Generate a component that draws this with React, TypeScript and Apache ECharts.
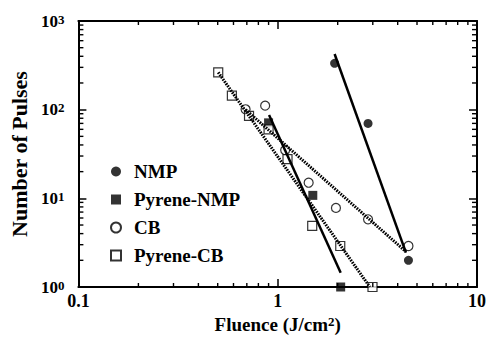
import React, { useEffect, useRef } from 'react';
import * as echarts from 'echarts';

// Data
const nmpX = [1.93, 2.84, 4.53];
const nmpY = [333, 70, 2];
const pyreneNmpX = [0.9, 1.5, 2.07];
const pyreneNmpY = [71, 10.8, 1];
const cbX = [0.69, 0.865, 1.09, 1.43, 1.96, 2.84, 4.53];
const cbY = [101, 111, 35, 15, 7.8, 5.8, 2.9];
const pyreneCbX = [0.503, 0.589, 0.718, 0.9, 1.12, 1.49, 2.06, 2.99];
const pyreneCbY = [263, 144, 85, 60, 27.7, 4.9, 2.9, 1];

// Fit lines (end points)
const nmpFitX = [1.93, 4.4];
const nmpFitY = [424, 2.44];
const pyreneNmpFitX = [0.905, 2.07];
const pyreneNmpFitY = [87, 1.45];
const cbFitX = [0.69, 4.4];
const cbFitY = [100, 2.5];
const pyreneCbFitX = [0.503, 2.9];
const pyreneCbFitY = [263, 1.0];

// Axis ranges and minor tick positions
const xMin = 0.1;
const xMax = 10;
const yMin = 1;
const yMax = 1000;
const xMinorTicks = [0.2, 0.3, 0.4, 0.5, 0.6, 0.7, 0.8, 0.9, 2, 3, 4, 5, 6, 7, 8, 9];
const yMinorTicks = [2, 3, 4, 5, 6, 7, 8, 9, 20, 30, 40, 50, 60, 70, 80, 90, 200, 300, 400, 500, 600, 700, 800, 900];

const legendNames = ['NMP', 'Pyrene-NMP', 'CB', 'Pyrene-CB'];

const FONT = '"Liberation Serif", "Times New Roman", serif';

const pairs = (xs: number[], ys: number[]) => xs.map((x, i) => [x, ys[i]]);

export default function App() {
  const ref = useRef<HTMLDivElement>(null);

  useEffect(() => {
    if (!ref.current) return;
    const chart = echarts.init(ref.current, undefined, { renderer: 'svg' });

    const tickStyle = { stroke: '#000', lineWidth: 1.4 };
    const minorLen = 4;

    const axisCommon = {
      type: 'log' as const,
      logBase: 10,
      axisLine: { show: true, lineStyle: { color: '#000', width: 2 } },
      axisTick: { show: true, inside: true, length: 8, lineStyle: { color: '#000', width: 1.5 } },
      splitLine: { show: false },
    };

    const option: any = {
      animation: false,
      backgroundColor: '#fff',
      grid: { left: 74, right: 10, top: 21, bottom: 52, containLabel: false },
      legend: {
        orient: 'vertical',
        left: 110,
        top: 162,
        padding: 0,
        itemWidth: 10,
        itemHeight: 10,
        itemGap: 9,
        data: legendNames,
        textStyle: {
          fontFamily: FONT,
          fontWeight: 'bold',
          fontSize: 19,
          lineHeight: 19,
          color: '#000',
          padding: [0, 0, 0, 8],
        },
      },
      xAxis: [
        {
          ...axisCommon,
          position: 'bottom',
          min: xMin,
          max: xMax,
          name: 'Fluence (J/cm{s|2})',
          nameLocation: 'middle',
          nameGap: 27,
          nameTextStyle: {
            fontFamily: FONT,
            fontWeight: 'bold',
            fontSize: 19,
            lineHeight: 19,
            color: '#000',
            rich: {
              s: { fontFamily: FONT, fontWeight: 'bold', fontSize: 13, lineHeight: 13, verticalAlign: 'top', color: '#000' },
            },
          },
          axisLabel: {
            show: true,
            margin: 5,
            fontFamily: FONT,
            fontWeight: 'bold',
            fontSize: 18,
            color: '#000',
            formatter: (v: number) => String(Number(v.toPrecision(2))),
          },
        },
        {
          ...axisCommon,
          position: 'top',
          min: xMin,
          max: xMax,
          axisLabel: { show: false },
        },
      ],
      yAxis: [
        {
          ...axisCommon,
          position: 'left',
          min: yMin,
          max: yMax,
          name: 'Number of Pulses',
          nameLocation: 'middle',
          nameGap: 44,
          nameTextStyle: {
            fontFamily: FONT,
            fontWeight: 'bold',
            fontSize: 22,
            color: '#000',
          },
          axisLabel: {
            show: true,
            margin: 14,
            formatter: (v: number) => `{b|10}{s|${Math.round(Math.log10(v))}}`,
            rich: {
              b: { fontFamily: FONT, fontWeight: 'bold', fontSize: 17, lineHeight: 17, color: '#000' },
              s: { fontFamily: FONT, fontWeight: 'bold', fontSize: 13, lineHeight: 13, verticalAlign: 'top', color: '#000' },
            },
          },
        },
        {
          ...axisCommon,
          position: 'right',
          min: yMin,
          max: yMax,
          axisLabel: { show: false },
        },
      ],
      series: [
        {
          name: 'xMinor',
          type: 'custom',
          coordinateSystem: 'cartesian2d',
          silent: true,
          clip: false,
          z: 5,
          data: xMinorTicks.map((v) => [v, yMin]),
          renderItem: (params: any, api: any) => {
            const v = api.value(0);
            const b = api.coord([v, yMin]);
            const t = api.coord([v, yMax]);
            return {
              type: 'group',
              children: [
                { type: 'line', shape: { x1: b[0], y1: b[1], x2: b[0], y2: b[1] - minorLen }, style: tickStyle },
                { type: 'line', shape: { x1: t[0], y1: t[1], x2: t[0], y2: t[1] + minorLen }, style: tickStyle },
              ],
            };
          },
        },
        {
          name: 'yMinor',
          type: 'custom',
          coordinateSystem: 'cartesian2d',
          silent: true,
          clip: false,
          z: 5,
          data: yMinorTicks.map((v) => [xMin, v]),
          renderItem: (params: any, api: any) => {
            const v = api.value(1);
            const l = api.coord([xMin, v]);
            const r = api.coord([xMax, v]);
            return {
              type: 'group',
              children: [
                { type: 'line', shape: { x1: l[0], y1: l[1], x2: l[0] + minorLen + 1, y2: l[1] }, style: tickStyle },
                { type: 'line', shape: { x1: r[0], y1: r[1], x2: r[0] - minorLen - 1, y2: r[1] }, style: tickStyle },
              ],
            };
          },
        },
        {
          name: 'NMP',
          type: 'scatter',
          symbol: 'circle',
          symbolSize: 9,
          clip: false,
          z: 3,
          itemStyle: { color: '#000' },
          data: pairs(nmpX, nmpY),
        },
        {
          name: 'Pyrene-NMP',
          type: 'scatter',
          symbol: 'rect',
          symbolSize: 9,
          clip: false,
          z: 3,
          itemStyle: { color: '#000' },
          data: pairs(pyreneNmpX, pyreneNmpY),
        },
        {
          name: 'CB',
          type: 'scatter',
          symbol: 'circle',
          symbolSize: 9,
          clip: false,
          z: 3,
          itemStyle: { color: '#fff', borderColor: '#000', borderWidth: 1.2 },
          data: pairs(cbX, cbY),
        },
        {
          name: 'Pyrene-CB',
          type: 'scatter',
          symbol: 'rect',
          symbolSize: 9,
          clip: false,
          z: 3,
          itemStyle: { color: '#fff', borderColor: '#000', borderWidth: 1.2 },
          data: pairs(pyreneCbX, pyreneCbY),
        },
        {
          name: 'NMP fit',
          type: 'line',
          symbol: 'none',
          z: 4,
          lineStyle: { color: '#000', width: 2.5, type: 'solid' },
          data: pairs(nmpFitX, nmpFitY),
        },
        {
          name: 'Pyrene-NMP fit',
          type: 'line',
          symbol: 'none',
          z: 4,
          lineStyle: { color: '#000', width: 2.5, type: 'solid' },
          data: pairs(pyreneNmpFitX, pyreneNmpFitY),
        },
        {
          name: 'CB fit',
          type: 'line',
          symbol: 'none',
          z: 4,
          lineStyle: { color: '#000', width: 3, type: [1.6, 1.1] },
          data: pairs(cbFitX, cbFitY),
        },
        {
          name: 'Pyrene-CB fit',
          type: 'line',
          symbol: 'none',
          z: 4,
          lineStyle: { color: '#000', width: 3, type: [1.6, 1.1] },
          data: pairs(pyreneCbFitX, pyreneCbFitY),
        },
      ],
    };

    chart.setOption(option);
    return () => chart.dispose();
  }, []);

  return (
    <div
      ref={ref}
      style={{ position: 'fixed', left: 0, top: 0, width: 489, height: 339, background: '#fff' }}
    />
  );
}
